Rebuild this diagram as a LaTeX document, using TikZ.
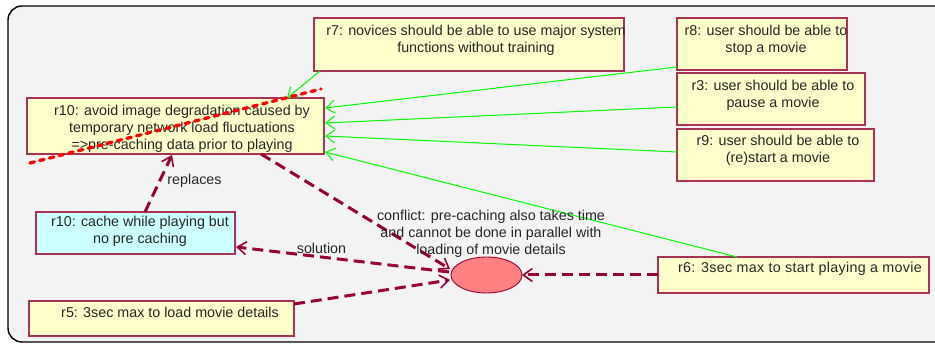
\documentclass[tikz,border=0pt]{standalone}
\usepackage{fontspec}
\setmainfont{Liberation Sans}
\usetikzlibrary{arrows.meta,calc,shapes.geometric}
\definecolor{boxfill}{RGB}{255,255,204}
\definecolor{cyanfill}{RGB}{204,255,255}
\definecolor{boxdraw}{RGB}{170,50,85}
\definecolor{maroon}{RGB}{153,0,51}
\definecolor{lgreen}{RGB}{0,255,0}
\definecolor{ellfill}{RGB}{255,128,128}
\definecolor{bggray}{RGB}{243,243,243}
\tikzset{
  reqbox/.style={draw=boxdraw, fill=boxfill, line width=1.3pt, rectangle, inner sep=0pt, outer sep=0pt, anchor=north west},
  solbox/.style={reqbox, fill=cyanfill},
  txt/.style={inner sep=0pt, outer sep=0pt, align=center, font=\fontsize{14.3}{17}\selectfont, text=black!85},
  support/.style={draw=lgreen, line width=1pt, -{Straight Barb[length=9pt,width=13pt,line width=1pt]}},
  conf/.style={draw=maroon, line width=3pt, dash pattern=on 11pt off 6pt, -{Straight Barb[length=9pt,width=13pt,line width=1.6pt]}},
  strike/.style={draw=red, line width=3.3pt, line cap=round, dash pattern=on 4.5pt off 5.5pt}
}
\begin{document}
\begin{tikzpicture}[x=1pt,y=-1pt]
\useasboundingbox (0,0) rectangle (935,344);
\fill[white] (0,0) rectangle (935,344);
\draw[fill=bggray, line width=1.4pt, rounded corners=14pt] (8,6) rectangle (965,342);

% boxes
\node[reqbox, minimum width=310pt, minimum height=53pt] (r7) at (314,18) {};
\node[reqbox, minimum width=297pt, minimum height=56pt] (r10) at (27,98) {};
\node[reqbox, minimum width=170pt, minimum height=52pt] (r8) at (677,18) {};
\node[reqbox, minimum width=188pt, minimum height=52pt] (r3) at (677,73) {};
\node[reqbox, minimum width=197pt, minimum height=52pt] (r9) at (677,129) {};
\node[reqbox, minimum width=271pt, minimum height=36pt] (r6) at (658,257) {};
\node[solbox, minimum width=199pt, minimum height=42pt] (r10b) at (36,212) {};
\node[reqbox, minimum width=265pt, minimum height=35pt] (r5) at (29,301) {};
\node[ellipse, draw=maroon, fill=ellfill, line width=0.9pt, minimum width=71pt, minimum height=36pt, inner sep=0pt, outer sep=0pt] (c1) at (486.5,275) {};

% texts
\node[txt] (t7) at (476,40.5) {r7: novices should be able to use major system\\functions without training};
\node[txt] (t10) at (182,128.5) {r10: avoid image degradation caused by\\temporary network load fluctuations\\=>pre-caching data prior to playing};
\node[txt] (t8) at (766,40) {r8: user should be able to\\stop a movie};
\node[txt] (t3) at (773,95) {r3: user should be able to\\pause a movie};
\node[txt] (t9) at (778,150) {r9: user should be able to\\(re)start a movie};
\node[txt, anchor=base] (t6) at (800,273) {\addfontfeature{LetterSpace=2.3}r6: 3sec max to start playing a movie};
\node[txt, anchor=base] (t5) at (170,318) {r5: 3sec max to load movie details};
\node[txt] (t10b) at (140,231.5) {r10: cache while playing but\\no pre caching};

% support links (green)
\draw[support] ($(r7.south west)+(6,0)$) -- ($(r10.north east)+(-37,0)$);
\draw[support] ($(r8.south west)+(0,-3)$) -- ($(r10.north east)+(1,10)$);
\draw[support] ($(r3.south west)+(0,-18)$) -- ($(r10.north east)+(1,25)$);
\draw[support] ($(r9.north west)+(0,23)$) -- ($(r10.north east)+(1,38)$);
\draw[support] ($(r6.north west)+(79,0)$) -- ($(r10.south east)+(1,-2)$);

% conflict links (maroon dashed)
\draw[conf] ($(r10.south west)+(234,0)$) -- ($(c1.west)+(-1,-6)$);
\draw[conf] ($(r10b.north west)+(109,0)$) -- ($(r10.south west)+(145,1)$);
\draw[conf] ($(c1.west)+(-2,-3)$) -- ($(r10b.south east)+(1,-7)$);
\draw[conf] ($(r5.north east)+(0,3)$) -- ($(c1.west)+(-1,5)$);
\draw[conf] (r6.west) -- (c1.east);

% strike through r10
\draw[strike] ($(r10.south west)+(3,9)$) -- ($(r10.north east)+(-3,-9)$);

% labels
\node[txt, anchor=base] (lrep) at (194.5,185) {replaces};
\node[txt, anchor=base] (lsol) at (321.5,254) {solution};
\node[txt] (lcon) at (491,234) {conflict: pre-caching also takes time\\and cannot be done in parallel with\\loading of movie details};
\end{tikzpicture}
\end{document}
